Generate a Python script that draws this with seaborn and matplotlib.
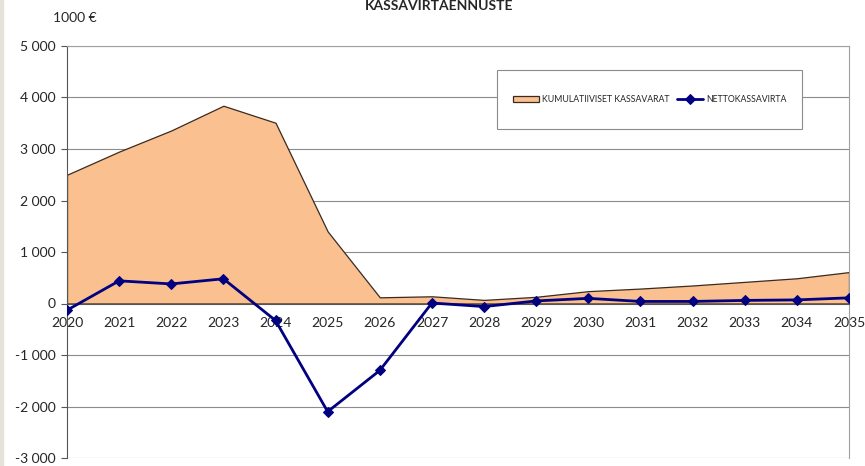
import matplotlib
matplotlib.use("Agg")
import matplotlib.pyplot as plt
from matplotlib.patches import Rectangle
import seaborn as sns
import pandas as pd

years = list(range(2020, 2036))
kumulatiiviset = [2500, 2950, 3360, 3840, 3510, 1400, 120, 140, 70, 130, 240, 290, 350, 420, 490, 610]
nettokassavirta = [-130, 440, 380, 480, -330, -2100, -1300, 10, -60, 50, 100, 40, 40, 60, 70, 110]
y_ticks = list(range(-3000, 5001, 1000))

df = pd.DataFrame({"vuosi": years, "kum": kumulatiiviset, "netto": nettokassavirta})

sns.set_style("white")
plt.rcParams["font.family"] = ["Lato", "DejaVu Sans"]

fig = plt.figure(figsize=(8.65, 4.66), dpi=100)
# thin grey strip on the left edge
fig.patches.append(Rectangle((0, 0), 3 / 865, 1, transform=fig.transFigure,
                             color="#e4e2da", zorder=0))

ax = fig.add_axes([67 / 865, 1 - 458 / 466, (849 - 67) / 865, (458 - 46) / 466])

ax.fill_between(df["vuosi"], 0, df["kum"], color="#FAC090", edgecolor="#3a2a20",
                linewidth=0.9, label="KUMULATIIVISET KASSAVARAT", zorder=2)
sns.lineplot(data=df, x="vuosi", y="netto", ax=ax, color="#000080", marker="D",
             markersize=5, markeredgecolor="#000080", linewidth=2,
             label="NETTOKASSAVIRTA", zorder=3)

ax.set_xlim(2020, 2035)
ax.set_ylim(-3000, 5000)
ax.set_yticks(y_ticks)
ax.set_yticklabels([f"{v:,}".replace(",", " ") for v in y_ticks], fontsize=10)
ax.set_xticks(years)
ax.set_xticklabels([str(y) for y in years], fontsize=9.5)
ax.set_xlabel("")
ax.set_ylabel("")

for v in y_ticks:
    if v != 0:
        ax.axhline(v, color="#8c8c8c", linewidth=0.8, zorder=1)

ax.spines["bottom"].set_position(("data", 0))
ax.spines["bottom"].set_color("#555555")
ax.spines["bottom"].set_zorder(2.5)
ax.spines["left"].set_color("#555555")
ax.spines["right"].set_color("#a0a0a0")
ax.spines["top"].set_color("#a0a0a0")
ax.tick_params(axis="x", direction="in", length=4, color="#555555", pad=10)
ax.tick_params(axis="y", direction="out", length=4, color="#555555", left=True, pad=4)

# legend box
bx0, bx1 = (497 - 67) / 782, (802 - 67) / 782
by0, by1 = (458 - 129) / 412, (458 - 70) / 412
ax.add_patch(Rectangle((bx0, by0), bx1 - bx0, by1 - by0, transform=ax.transAxes,
                       facecolor="white", edgecolor="#8c8c8c", linewidth=0.8, zorder=4))
leg = ax.legend(loc="center", bbox_to_anchor=((bx0 + bx1) / 2, (by0 + by1) / 2),
                fontsize=6.3, frameon=False, ncol=2, handlelength=3.0,
                columnspacing=0.9, handletextpad=0.3)
leg.set_zorder(5)

fig.text(0.508, 1.0, "KASSAVIRTAENNUSTE", ha="center", va="top",
         fontsize=10, fontweight="bold")
fig.text(53 / 865, 1 - 18 / 466, "1000 €", ha="left", va="center", fontsize=10)

fig.savefig("out.png", dpi=100)
